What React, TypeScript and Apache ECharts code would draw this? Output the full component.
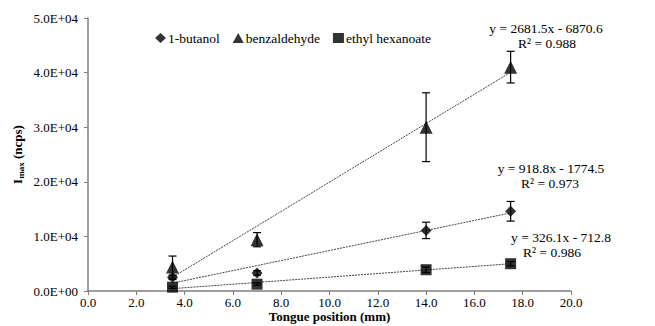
import React, { useEffect, useRef } from "react";
import * as echarts from "echarts";

const xPositions = [3.5, 7, 14, 17.5];
const seriesNames = ["1-butanol", "benzaldehyde", "ethyl hexanoate"];
const butanol = [2500, 3300, 11100, 14600];
const benzaldehyde = [4400, 9400, 30000, 41000];
const ethylHexanoate = [700, 1250, 3900, 5000];
const butanolErr = [400, 400, 1500, 1800];
const benzaldehydeErr = [2000, 1300, 6300, 2900];
const ethylHexanoateErr = [200, 200, 500, 400];
const slopes = [918.8, 2681.5, 326.1];
const intercepts = [-1774.5, -6870.6, -712.8];
const equations = ["y = 918.8x - 1774.5", "y = 2681.5x - 6870.6", "y = 326.1x - 712.8"];
const r2 = ["R² = 0.973", "R² = 0.988", "R² = 0.986"];
const symbols = ["diamond", "triangle", "rect"];

const FONT = "\"Liberation Serif\", \"DejaVu Serif\", serif";

function fmtY(v: number): string {
  if (v === 0) return "0.0E+00";
  const e = Math.floor(Math.log10(v));
  const m = v / Math.pow(10, e);
  return m.toFixed(1) + "E+" + String(e).padStart(2, "0");
}

export default function App() {
  const ref = useRef<HTMLDivElement>(null);
  useEffect(() => {
    if (!ref.current) return;
    const chart = echarts.init(ref.current, null, { renderer: "svg" });
    const values = [butanol, benzaldehyde, ethylHexanoate];
    const errs = [butanolErr, benzaldehydeErr, ethylHexanoateErr];
    const sizes = [11, 13, 11];
    const series: any[] = [];
    values.forEach((_, i) => {
      const x0 = xPositions[0];
      const x1 = xPositions[xPositions.length - 1];
      series.push({
        type: "line",
        name: "trend" + i,
        data: [
          [x0, slopes[i] * x0 + intercepts[i]],
          [x1, slopes[i] * x1 + intercepts[i]],
        ],
        showSymbol: false,
        symbol: "none",
        lineStyle: { color: "#444", width: 1, type: [2, 1] },
        silent: true,
        z: 1,
      });
    });
    values.forEach((vals, i) => {
      series.push({
        type: "custom",
        name: "err" + i,
        data: vals.map((v, j) => [xPositions[j], v - errs[i][j], v + errs[i][j]]),
        renderItem: (params: any, api: any) => {
          const x = api.value(0);
          const lo = api.coord([x, api.value(1)]);
          const hi = api.coord([x, api.value(2)]);
          const w = 4;
          const st = { stroke: "#000", lineWidth: 1.2 };
          return {
            type: "group",
            children: [
              { type: "line", shape: { x1: lo[0], y1: lo[1], x2: hi[0], y2: hi[1] }, style: st },
              { type: "line", shape: { x1: lo[0] - w, y1: lo[1], x2: lo[0] + w, y2: lo[1] }, style: st },
              { type: "line", shape: { x1: hi[0] - w, y1: hi[1], x2: hi[0] + w, y2: hi[1] }, style: st },
            ],
          };
        },
        z: 2,
      });
    });
    values.forEach((vals, i) => {
      series.push({
        type: "scatter",
        name: seriesNames[i],
        data: vals.map((v, j) => [xPositions[j], v]),
        symbol: symbols[i],
        symbolSize: sizes[i],
        itemStyle: { color: "#000" },
        z: 3,
      });
    });

    const eqPos = [
      [551, 168],
      [546, 28],
      [561, 237],
    ];
    const r2Pos = [
      [550, 183],
      [547, 43],
      [552, 252],
    ];
    const graphics: any[] = [];
    equations.forEach((t, i) => {
      graphics.push({
        type: "text",
        x: eqPos[i][0],
        y: eqPos[i][1],
        style: { text: t, fontFamily: FONT, fontSize: 13.5, fill: "#000", align: "center", verticalAlign: "middle" },
      });
      graphics.push({
        type: "text",
        x: r2Pos[i][0],
        y: r2Pos[i][1],
        style: { text: r2[i], fontFamily: FONT, fontSize: 13.5, fill: "#000", align: "center", verticalAlign: "middle" },
      });
    });

    chart.setOption({
      animation: false,
      backgroundColor: "#fff",
      textStyle: { fontFamily: FONT },
      grid: { left: 88, right: 84, top: 18, bottom: 35, outerBoundsMode: "none" },
      legend: {
        data: seriesNames.map((n, i) => ({ name: n, icon: symbols[i] })),
        left: 150,
        top: 26,
        itemWidth: 11,
        itemHeight: 10,
        itemGap: 13,
        textStyle: { fontFamily: FONT, fontSize: 13.5, color: "#000", padding: [0, 0, 0, -3] },
        selectedMode: false,
      },
      xAxis: {
        type: "value",
        min: 0,
        max: 20,
        interval: 2,
        name: "Tongue position (mm)",
        nameLocation: "middle",
        nameGap: 19,
        nameMoveOverlap: false,
        nameTextStyle: { fontFamily: FONT, fontSize: 13, fontWeight: "bold", color: "#000" },
        axisLine: { lineStyle: { color: "#7f7f7f", width: 1.5 } },
        axisTick: { show: true, length: 4, lineStyle: { color: "#7f7f7f" } },
        axisLabel: {
          fontFamily: FONT,
          fontSize: 13,
          color: "#000",
          margin: 5,
          formatter: (v: number) => v.toFixed(1),
        },
        splitLine: { show: false },
      },
      yAxis: {
        type: "value",
        min: 0,
        max: 50000,
        interval: 10000,
        name: "{a|I}{b|max}{a| (ncps)}",
        nameLocation: "middle",
        nameRotate: 90,
        nameGap: 63,
        nameMoveOverlap: false,
        nameTextStyle: {
          rich: {
            a: { fontFamily: FONT, fontSize: 13, fontWeight: "bold", color: "#000" },
            b: { fontFamily: FONT, fontSize: 9, fontWeight: "bold", color: "#000", verticalAlign: "bottom", padding: [6, 0, 0, 0] },
          },
        },
        axisLine: { show: true, lineStyle: { color: "#7f7f7f", width: 1.5 } },
        axisTick: { show: true, length: 4, lineStyle: { color: "#7f7f7f" } },
        axisLabel: { fontFamily: FONT, fontSize: 13, color: "#000", margin: 10, formatter: fmtY },
        splitLine: { show: false },
      },
      graphic: graphics,
      series,
    });
    return () => chart.dispose();
  }, []);
  return (
    <div
      ref={ref}
      style={{ position: "absolute", left: 0, top: 0, width: 655, height: 326 }}
    />
  );
}
